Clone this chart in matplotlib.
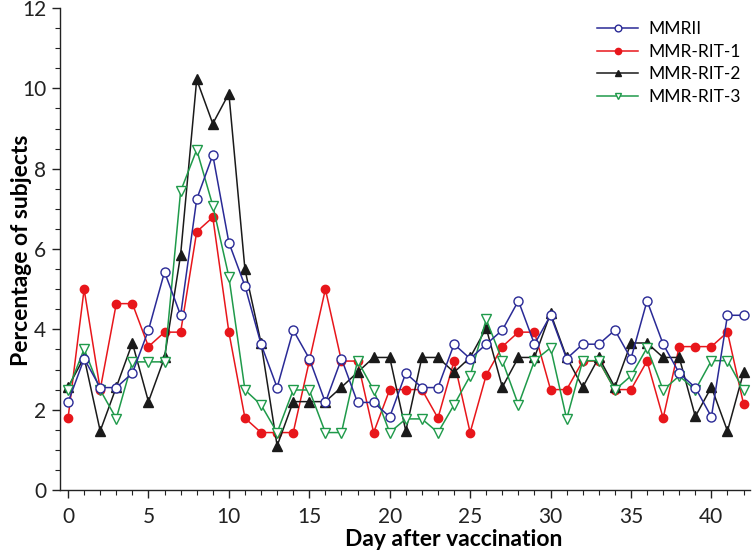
import matplotlib
matplotlib.use("Agg")
import matplotlib.pyplot as plt
from matplotlib.ticker import MultipleLocator

days = list(range(0, 43))

mmrii = [2.18, 3.27, 2.55, 2.55, 2.91, 3.98, 5.43, 4.35, 7.24, 8.34,
         6.16, 5.08, 3.63, 2.55, 3.98, 3.27, 2.18, 3.27, 2.18, 2.18,
         1.82, 2.91, 2.55, 2.55, 3.63, 3.27, 3.63, 3.98, 4.71, 3.63,
         4.35, 3.27, 3.63, 3.63, 3.98, 3.27, 4.71, 3.63, 2.91, 2.55,
         1.82, 4.35, 4.35]

rit1 = [1.79, 5.00, 2.50, 4.64, 4.64, 3.57, 3.93, 3.93, 6.43, 6.79,
        3.93, 1.79, 1.43, 1.43, 1.43, 3.21, 5.00, 3.21, 3.21, 1.43,
        2.50, 2.50, 2.50, 1.79, 3.21, 1.43, 2.86, 3.57, 3.93, 3.93,
        2.50, 2.50, 3.21, 3.21, 2.50, 2.50, 3.21, 1.79, 3.57, 3.57,
        3.57, 3.93, 2.14]

rit2 = [2.56, 3.30, 1.47, 2.56, 3.66, 2.20, 3.30, 5.86, 10.22, 9.12,
        9.87, 5.49, 3.66, 1.10, 2.20, 2.20, 2.20, 2.56, 2.93, 3.30,
        3.30, 1.47, 3.30, 3.30, 2.93, 3.30, 4.03, 2.56, 3.30, 3.30,
        4.40, 3.30, 2.56, 3.30, 2.56, 3.66, 3.66, 3.30, 3.30, 1.83,
        2.56, 1.47, 2.93]

rit3 = [2.49, 3.51, 2.49, 1.78, 3.19, 3.19, 3.19, 7.44, 8.47, 7.08,
        5.31, 2.49, 2.12, 1.43, 2.49, 2.49, 1.43, 1.43, 3.22, 2.49,
        1.43, 1.77, 1.77, 1.43, 2.12, 2.84, 4.25, 3.22, 2.12, 3.22,
        3.54, 1.77, 3.22, 3.22, 2.49, 2.84, 3.54, 2.49, 2.84, 2.49,
        3.22, 3.22, 2.49]

labels = ["MMRII", "MMR-RIT-1", "MMR-RIT-2", "MMR-RIT-3"]
x_ticks = [0, 5, 10, 15, 20, 25, 30, 35, 40]
y_ticks = [0, 2, 4, 6, 8, 10, 12]

plt.rcParams['font.family'] = ['Lato', 'DejaVu Sans']

fig = plt.figure(figsize=(7.52, 5.56), dpi=100)
ax = fig.add_axes([60/752, 1-490/556, 690/752, 482/556])

lw = 1.1
h1, = ax.plot(days, rit1, color='#e8161b', lw=lw, marker='o', ms=6,
              mfc='#e8161b', mec='#e8161b', label=labels[1], zorder=3)
h2, = ax.plot(days, rit2, color='#1a1a1a', lw=lw, marker='^', ms=6.5,
              mfc='#1a1a1a', mec='#1a1a1a', label=labels[2], zorder=4)
h3, = ax.plot(days, rit3, color='#1f9a4a', lw=lw, marker='v', ms=6.5,
              mfc='white', mec='#1f9a4a', mew=1.0, label=labels[3], zorder=5)
h0, = ax.plot(days, mmrii, color='#2a2a96', lw=lw, marker='o', ms=6.5,
              mfc='white', mec='#2a2a96', mew=1.0, label=labels[0], zorder=6)

ax.set_xlim(-0.5, 42.4)
ax.set_ylim(0, 12)
ax.set_xticks(x_ticks)
ax.set_yticks(y_ticks)
ax.xaxis.set_minor_locator(MultipleLocator(1))
ax.yaxis.set_minor_locator(MultipleLocator(0.5))
ax.tick_params(axis='both', which='major', length=6, width=1, labelsize=15,
               direction='out', colors='#222222')
ax.tick_params(axis='both', which='minor', length=3.5, width=0.8,
               direction='out', colors='#222222')
ax.tick_params(axis='x', pad=6)
ax.tick_params(axis='y', pad=4)
for s in ['top', 'right']:
    ax.spines[s].set_visible(False)
for s in ['left', 'bottom']:
    ax.spines[s].set_color('#222222')
    ax.spines[s].set_linewidth(1.0)

ax.set_xlabel("Day after vaccination", fontsize=16.5, fontweight='bold')
ax.set_ylabel("Percentage of subjects", fontsize=16.5, fontweight='bold')
ax.xaxis.set_label_coords((454 - 60) / 690, -(540 - 490) / 482)
ax.yaxis.set_label_coords(-(60 - 22) / 690, (490 - 250) / 482)
ax.xaxis.label.set_va('center')
ax.yaxis.label.set_va('center')

leg = ax.legend(handles=[h0, h1, h2, h3], loc='upper right',
                bbox_to_anchor=(1.01, 1.005), frameon=False, fontsize=12.5,
                handlelength=2.4, markerscale=0.75, labelspacing=0.38,
                handletextpad=0.6)

fig.savefig("out.png", dpi=100)
